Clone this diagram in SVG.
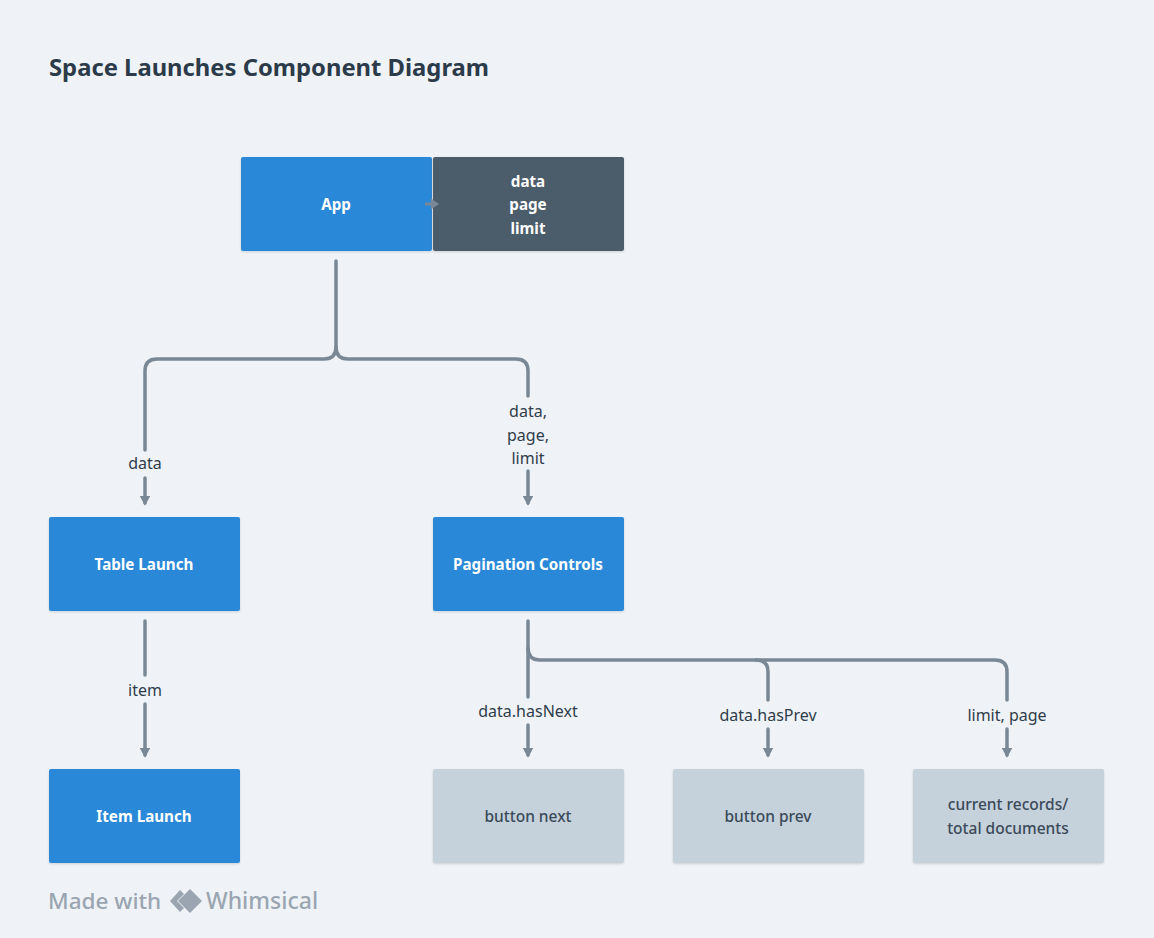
<svg xmlns="http://www.w3.org/2000/svg" width="1154" height="938" viewBox="0 0 1154 938">
<style>
.bg{fill:#eff3f7}
.blue{fill:#2b88d8}
.dark{fill:#4b5b6a}
.grey{fill:#c5d1db}
.nt{font-family:"Noto Sans","Lato",sans-serif;font-size:15.2px;font-weight:700;fill:#ffffff;text-anchor:middle}
.gt{font-family:"Noto Sans","Lato",sans-serif;font-size:15.5px;font-weight:500;fill:#3b4a59;text-anchor:middle}
.lb{font-family:"Noto Sans","Lato",sans-serif;font-size:16px;fill:#2f3d4b;text-anchor:middle}
.ln{fill:none;stroke:#7a8896;stroke-width:3.5;stroke-linecap:round;stroke-linejoin:round}
</style>
<defs>
<marker id="ah" markerWidth="4" markerHeight="4" refX="2" refY="2" orient="auto" markerUnits="strokeWidth">
<path d="M0,0.5 L2.8,2 L0,3.5 Z" fill="#7a8896"/>
</marker>
<filter id="sh" x="-5%" y="-5%" width="110%" height="115%">
<feDropShadow dx="0" dy="1" stdDeviation="1" flood-color="#000" flood-opacity="0.15"/>
</filter>
</defs>
<rect class="bg" x="0" y="0" width="1154" height="938"/>
<text x="49" y="76" font-family="'Noto Sans','Lato',sans-serif" font-size="23.8" font-weight="700" fill="#2c3b4a">Space Launches Component Diagram</text>

<g id="connectors">
<path class="ln" d="M336,261 V347 Q336,359 324,359 H157 Q145,359 145,371 V450"/>
<path class="ln" d="M336,347 Q336,359 348,359 H516 Q528,359 528,371 V396"/>
<path class="ln" d="M145,478 V503" marker-end="url(#ah)"/>
<path class="ln" d="M528,471 V503" marker-end="url(#ah)"/>
<path class="ln" d="M145,621 V675"/>
<path class="ln" d="M145,704 V755" marker-end="url(#ah)"/>
<path class="ln" d="M528,621 V697"/>
<path class="ln" d="M528,648 Q528,660 540,660 H756 Q768,660 768,672 V700"/>
<path class="ln" d="M756,660 H995 Q1007,660 1007,672 V700"/>
<path class="ln" d="M528,725 V755" marker-end="url(#ah)"/>
<path class="ln" d="M768,729 V755" marker-end="url(#ah)"/>
<path class="ln" d="M1007,729 V755" marker-end="url(#ah)"/>
<text class="lb" x="145" y="469">data</text>
<text class="lb" x="528" y="417">data,</text>
<text class="lb" x="528" y="441">page,</text>
<text class="lb" x="528" y="464">limit</text>
<text class="lb" x="145" y="696">item</text>
<text class="lb" x="528" y="717">data.hasNext</text>
<text class="lb" x="768" y="721">data.hasPrev</text>
<text class="lb" x="1007" y="721">limit, page</text>
</g>

<g id="app"><rect class="blue" x="241" y="157" width="191" height="94" rx="2" filter="url(#sh)"/><text class="nt" x="336" y="210">App</text></g>
<g id="state"><rect class="dark" x="433" y="157" width="191" height="94" rx="2" filter="url(#sh)"/>
<text class="nt" x="528" y="187">data</text><text class="nt" x="528" y="210">page</text><text class="nt" x="528" y="234">limit</text></g>
<g id="table-launch"><rect class="blue" x="49" y="517" width="191" height="94" rx="2" filter="url(#sh)"/><text class="nt" x="144" y="570">Table Launch</text></g>
<g id="pagination-controls"><rect class="blue" x="433" y="517" width="191" height="94" rx="2" filter="url(#sh)"/><text class="nt" x="528" y="570">Pagination Controls</text></g>
<g id="item-launch"><rect class="blue" x="49" y="769" width="191" height="94" rx="2" filter="url(#sh)"/><text class="nt" x="144" y="822">Item Launch</text></g>
<g id="button-next"><rect class="grey" x="433" y="769" width="191" height="94" rx="2" filter="url(#sh)"/><text class="gt" x="528" y="822">button next</text></g>
<g id="button-prev"><rect class="grey" x="673" y="769" width="191" height="94" rx="2" filter="url(#sh)"/><text class="gt" x="768" y="822">button prev</text></g>
<g id="records"><rect class="grey" x="913" y="769" width="191" height="94" rx="2" filter="url(#sh)"/><text class="gt" x="1008" y="810">current records/</text><text class="gt" x="1008" y="834">total documents</text></g>

<g id="app-state-link">
<path d="M425,204 H433" stroke="#7a8896" stroke-width="3" fill="none"/>
<path d="M431,198.5 L439,204 L431,209.5 Z" fill="#7a8896"/>
</g>

<g id="watermark" fill="#9aa5b1">
<text x="48" y="909" font-family="'Noto Sans','Lato',sans-serif" font-size="22.5" font-weight="500">Made with</text>
<path d="M180,890 L170,901 L180,912 L184,908 L177,901 L184,894 Z" fill="#9aa5b1"/>
<path d="M190,889 L202,901 L190,913 L178,901 Z" fill="#9aa5b1"/>
<text x="206" y="909" font-family="'Noto Sans','Lato',sans-serif" font-size="23" font-weight="500">Whimsical</text>
</g>
</svg>
